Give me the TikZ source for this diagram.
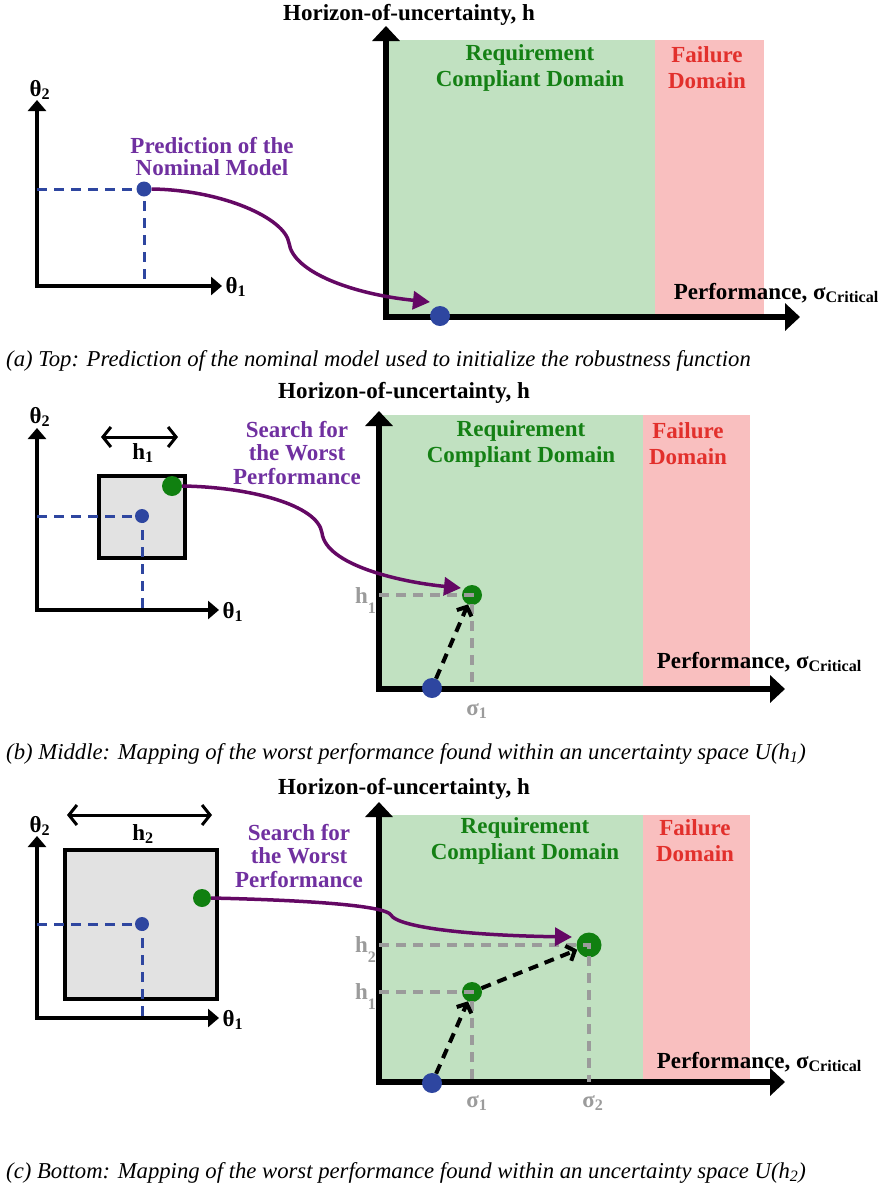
\documentclass[tikz,border=0pt]{standalone}
\usepackage{fontspec}
\setmainfont{Liberation Serif}
\usetikzlibrary{arrows.meta}

\definecolor{domgreen}{RGB}{193,225,193}
\definecolor{domred}{RGB}{249,191,191}
\definecolor{txtgreen}{RGB}{20,128,20}
\definecolor{txtred}{RGB}{226,48,44}
\definecolor{txtpurple}{RGB}{112,48,160}
\definecolor{mappurple}{RGB}{100,8,100}
\definecolor{ptblue}{RGB}{46,70,160}
\definecolor{ptgreen}{RGB}{16,128,16}
\definecolor{boxgray}{RGB}{226,226,226}
\definecolor{markgray}{RGB}{155,155,155}

\tikzset{
  bigaxis/.style={line width=6pt,{Triangle[length=15pt,width=27pt]}-{Triangle[length=15pt,width=27pt]}},
  smallaxis/.style={line width=4pt,{Triangle[length=11pt,width=18pt]}-{Triangle[length=11pt,width=18pt]}},
  lbl/.style={font=\fontsize{23}{26}\selectfont\bfseries, inner sep=0pt},
  domlbl/.style={lbl, align=center, font=\fontsize{23}{26}\selectfont\bfseries},
  searchlbl/.style={lbl, align=center, text=txtpurple, font=\fontsize{23}{23.5}\selectfont\bfseries},
  ticklbl/.style={lbl, text=markgray, font=\fontsize{23}{26}\selectfont\bfseries},
  caption/.style={font=\fontsize{22.7}{26}\selectfont\itshape, inner sep=0pt, anchor=base west},
  bluedot/.style={circle, fill=ptblue, inner sep=0pt, minimum size=#1},
  greendot/.style={circle, fill=ptgreen, inner sep=0pt, minimum size=#1},
  blueguide/.style={ptblue, line width=3pt, dash pattern=on 10pt off 7pt},
  grayguide/.style={markgray, line width=3.5pt, dash pattern=on 10pt off 7pt},
  mapping/.style={mappurple, line width=3.5pt, -{Triangle[length=17pt,width=18pt]}},
  climb/.style={line width=4pt, dash pattern=on 10pt off 7pt, -{Straight Barb[length=7pt,width=16pt]}},
  spanarrow/.style={line width=3pt, {Straight Barb[length=8pt,width=20pt]}-{Straight Barb[length=8pt,width=20pt]}},
  uncbox/.style={draw, line width=3.5pt, fill=boxgray}
}
\newcommand{\lowsub}[1]{\raisebox{-10pt}{\fontsize{16}{16}\selectfont #1}}

\begin{document}
\begin{tikzpicture}[x=1pt,y=-1pt]
\useasboundingbox (0,0) rectangle (885,1187);

% ---------- (a) top ----------
\coordinate (a-o) at (37,286);
\coordinate (a-y) at (37,100);
\coordinate (a-x) at (222,286);
\draw[smallaxis] (a-y) -- (a-o) -- (a-x);
\node[lbl] (a-t2) at (40,90) {θ\textsubscript{2}};
\node[lbl] (a-t1) at (236,287) {θ\textsubscript{1}};
\node[bluedot=15pt] (a-nom) at (144,189) {};
\draw[blueguide] (a-o |- a-nom) -- (a-nom.center) -- (a-nom |- a-o);
\node[searchlbl, font=\fontsize{23}{22}\selectfont\bfseries] (a-pred) at (212,157) {Prediction of the\\Nominal Model};

\fill[domgreen] (389,40) rectangle (655,315);
\fill[domred] (655,40) rectangle (764,315);
\coordinate (A-o) at (386,317);
\coordinate (A-y) at (386,26);
\coordinate (A-x) at (800,317);
\draw[bigaxis] (A-y) -- (A-o) -- (A-x);
\node[lbl] (A-hlbl) at (409,15) {Horizon-of-uncertainty, h};
\node[domlbl, text=txtgreen] (A-ok) at (530,68) {Requirement\\Compliant Domain};
\node[domlbl, text=txtred] (A-fail) at (707,68) {Failure\\Domain};
\node[lbl, anchor=east] (A-perf) at (879,293) {Performance, σ\textsubscript{Critical}};
\node[bluedot=20pt] (A-nom) at (440,316) {};
\coordinate (a-tip) at (430,302);
\draw[mapping] (a-nom.east) .. controls (222,190) and (285,218) .. (289,243)
  .. controls (293,272) and (352,294) .. (a-tip);

\node[caption] (a-cap) at (6,366) {(a) Top: Prediction of the nominal model used to initialize the robustness function};

% ---------- (b) middle ----------
\coordinate (b-o) at (37,610);
\coordinate (b-y) at (37,428);
\coordinate (b-x) at (219,610);
\draw[smallaxis] (b-y) -- (b-o) -- (b-x);
\node[lbl] (b-t2) at (40,417) {θ\textsubscript{2}};
\node[lbl] (b-t1) at (233,612) {θ\textsubscript{1}};
\draw[uncbox] (99,476) rectangle (185,558);
\coordinate (b-sl) at (101,437);
\coordinate (b-sr) at (178,437);
\draw[spanarrow] (b-sl) -- (b-sr);
\node[lbl] (b-h) at (143,453) {h\textsubscript{1}};
\node[bluedot=14pt] (b-nom) at (142,516) {};
\draw[blueguide] (b-o |- b-nom) -- (b-nom.center) -- (b-nom |- b-o);
\node[greendot=20pt] (b-worst) at (172,486) {};
\node[searchlbl] (b-search) at (297,453) {Search for\\the Worst\\Performance};

\fill[domgreen] (382,415) rectangle (643,687);
\fill[domred] (643,415) rectangle (750,687);
\coordinate (B-o) at (379,689);
\coordinate (B-y) at (379,411);
\coordinate (B-x) at (785,689);
\draw[bigaxis] (B-y) -- (B-o) -- (B-x);
\node[lbl] (B-hlbl) at (404,393) {Horizon-of-uncertainty, h};
\node[domlbl, text=txtgreen] (B-ok) at (521,444) {Requirement\\Compliant Domain};
\node[domlbl, text=txtred] (B-fail) at (688,444) {Failure\\Domain};
\node[lbl, anchor=east] (B-perf) at (862,662) {Performance, σ\textsubscript{Critical}};
\node[greendot=20pt] (B-h1) at (472,595) {};
\draw[grayguide] (B-o |- B-h1) -- (B-h1.center) -- (B-h1 |- B-o);
\node[ticklbl, anchor=base east] (B-hl1) at (376,603) {h\lowsub{1}};
\node[ticklbl] (B-s1) at (477,711) {σ\textsubscript{1}};
\node[bluedot=20pt] (B-nom) at (432,688) {};
\draw[climb] (B-nom) -- (B-h1);
\coordinate (b-tip) at (461,588);
\draw[mapping] (b-worst.east) .. controls (250,487) and (318,505) .. (322,533)
  .. controls (326,565) and (400,582) .. (b-tip);

\node[caption] (b-cap) at (6,759) {(b) Middle: Mapping of the worst performance found within an uncertainty space U(h\textsubscript{1})};

% ---------- (c) bottom ----------
\coordinate (c-o) at (37,1018);
\coordinate (c-y) at (37,836);
\coordinate (c-x) at (219,1018);
\draw[smallaxis] (c-y) -- (c-o) -- (c-x);
\node[lbl] (c-t2) at (40,826) {θ\textsubscript{2}};
\node[lbl] (c-t1) at (233,1020) {θ\textsubscript{1}};
\draw[uncbox] (65,850) rectangle (217,999);
\coordinate (c-sl) at (67,815);
\coordinate (c-sr) at (212,815);
\draw[spanarrow] (c-sl) -- (c-sr);
\node[lbl] (c-h) at (143,834) {h\textsubscript{2}};
\node[bluedot=14pt] (c-nom) at (142,924) {};
\draw[blueguide] (c-o |- c-nom) -- (c-nom.center) -- (c-nom |- c-o);
\node[greendot=18pt] (c-worst) at (202,898) {};
\node[searchlbl] (c-search) at (299,856) {Search for\\the Worst\\Performance};

\fill[domgreen] (382,815) rectangle (643,1080);
\fill[domred] (643,815) rectangle (750,1080);
\coordinate (C-o) at (379,1082);
\coordinate (C-y) at (379,802);
\coordinate (C-x) at (785,1082);
\draw[bigaxis] (C-y) -- (C-o) -- (C-x);
\node[lbl] (C-hlbl) at (404,789) {Horizon-of-uncertainty, h};
\node[domlbl, text=txtgreen] (C-ok) at (525,841) {Requirement\\Compliant Domain};
\node[domlbl, text=txtred] (C-fail) at (695,841) {Failure\\Domain};
\node[lbl, anchor=east] (C-perf) at (862,1062) {Performance, σ\textsubscript{Critical}};
\node[greendot=20pt] (C-h1) at (472,992) {};
\node[greendot=25pt] (C-h2) at (589,945) {};
\draw[grayguide] (C-o |- C-h1) -- (C-h1.center) -- (C-h1 |- C-o);
\draw[grayguide] (C-o |- C-h2) -- (C-h2.center) -- (C-h2 |- C-o);
\node[ticklbl, anchor=base east] (C-hl2) at (376,952) {h\lowsub{2}};
\node[ticklbl, anchor=base east] (C-hl1) at (376,999) {h\lowsub{1}};
\node[ticklbl] (C-s1) at (477,1103) {σ\textsubscript{1}};
\node[ticklbl] (C-s2) at (593,1103) {σ\textsubscript{2}};
\node[bluedot=20pt] (C-nom) at (432,1083) {};
\draw[climb] (C-nom) -- (C-h1);
\draw[climb] (C-h1) -- (C-h2);
\coordinate (c-tip) at (572,937);
\draw[mapping] (c-worst.east) .. controls (300,900) and (385,905) .. (391,915)
  .. controls (396,925) and (450,935) .. (c-tip);

\node[caption] (c-cap) at (6,1178) {(c) Bottom: Mapping of the worst performance found within an uncertainty space U(h\textsubscript{2})};
\end{tikzpicture}
\end{document}
